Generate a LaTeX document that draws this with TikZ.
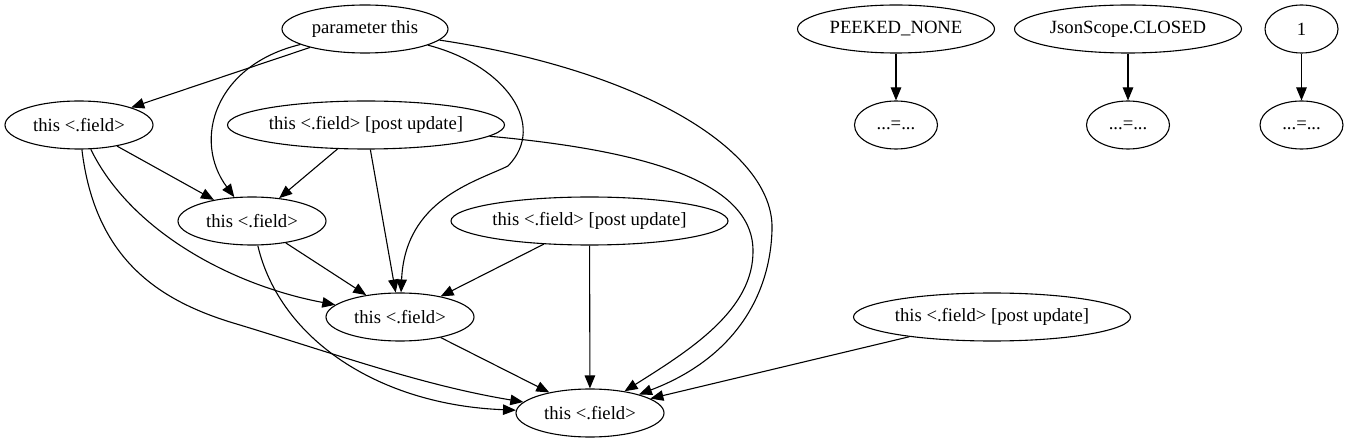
\documentclass[tikz,border=0pt]{standalone}
\usepackage{fontspec}
\setmainfont{Liberation Serif}
\usetikzlibrary{shapes.geometric,arrows.meta}
\begin{document}
\begin{tikzpicture}[x=1bp,y=-1bp,line width=1.1bp,>={Triangle[length=13bp,width=10.5bp]},
    every node/.style={ellipse,draw,inner sep=0pt,minimum height=48bp,font=\fontsize{18.67bp}{22bp}\selectfont},
    fld/.style={minimum width=148bp},
    pu/.style={minimum width=277bp},
    eqn/.style={minimum width=83bp}]
    \useasboundingbox (0,0) rectangle (1348,443);
    \node[minimum width=166bp] (par) at (365,29) {parameter this};
    \node[fld] (fa) at (79,125) {this <.field>};
    \node[pu] (pua) at (366,125) {this <.field> [post update]};
    \node[fld] (fb) at (252,221) {this <.field>};
    \node[pu] (pub) at (589.5,221) {this <.field> [post update]};
    \node[fld] (fc) at (400,317) {this <.field>};
    \node[pu] (puc) at (992,317) {this <.field> [post update]};
    \node[fld] (fd) at (590,413) {this <.field>};
    \node[minimum width=197bp] (peek) at (896,29) {PEEKED\_NONE};
    \node[eqn] (eqa) at (896,125) {...=...};
    \node[minimum width=227bp] (json) at (1128,29) {JsonScope.CLOSED};
    \node[eqn] (eqb) at (1128,125) {...=...};
    \node[minimum width=73bp] (one) at (1301.5,29) {1};
    \node[eqn] (eqc) at (1301.5,125) {...=...};
    \draw[->] (par) -- (fa);
    \draw[->] (par) .. controls (215,65) and (192,140) .. (fb);
    \draw[->] (par) .. controls (505,65) and (548,125) .. (508,166) .. controls (475,182) and (405,200) .. (fc);
    \draw[->] (par) .. controls (640,70) and (775,150) .. (772,230) .. controls (770,300) and (730,360) .. (fd);
    \draw[->] (fa) -- (fb);
    \draw[->] (fa) .. controls (130,230) and (230,285) .. (fc);
    \draw[->] (fa) .. controls (95,260) and (160,300) .. (230,322) .. controls (330,352) and (420,385) .. (fd);
    \draw[->] (pua) -- (fb);
    \draw[->] (pua) -- (fc);
    \draw[->] (pua) .. controls (640,150) and (752,180) .. (753,250) .. controls (754,310) and (690,350) .. (fd);
    \draw[->] (fb) -- (fc);
    \draw[->] (fb) .. controls (280,340) and (380,405) .. (fd);
    \draw[->] (pub) -- (fc);
    \draw[->] (pub) -- (fd);
    \draw[->] (fc) -- (fd);
    \draw[->] (puc) -- (fd);
    \draw[->] (peek) -- (eqa);
    \draw[->] (json) -- (eqb);
    \draw[->] (one) -- (eqc);
\end{tikzpicture}
\end{document}
